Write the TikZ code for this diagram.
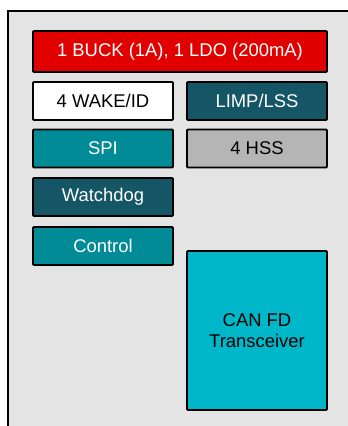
\documentclass[tikz,border=0pt]{standalone}
\usepackage{fontspec}
\setmainfont{Liberation Sans}
\definecolor{bggray}{HTML}{E4E4E4}
\definecolor{tired}{HTML}{E00000}
\definecolor{darkteal}{HTML}{145566}
\definecolor{midteal}{HTML}{008B96}
\definecolor{lightteal}{HTML}{00B7C9}
\definecolor{hssgray}{HTML}{B5B5B5}
\begin{document}
\begin{tikzpicture}[x=1bp, y=-1bp,
    blk/.style={draw=black, line width=1.8bp, rounded corners=1bp,
        minimum width=140bp, minimum height=38bp, inner sep=0pt,
        font=\fontsize{18.5}{21}\selectfont, align=center},
    dark/.style={blk, fill=darkteal, text=white},
    mid/.style={blk, fill=midteal, text=white}]
    \useasboundingbox (0,0) rectangle (348,426);
    \clip (0,0) rectangle (348,426);
    \fill[white] (0,0) rectangle (348,426);
    % device outline
    \draw[line width=2bp, fill=bggray] (8,11) rectangle (380,460);
    % blocks
    \node[blk, fill=tired, text=white, minimum width=294bp, minimum height=41bp] (pwr) at (180,51.5) {1 BUCK (1A), 1 LDO (200mA)};
    \node[blk, fill=white] (wake) at (103,101) {4 WAKE/ID};
    \node[dark] (limp) at (257,101) {LIMP/LSS};
    \node[mid] (spi) at (103,148.5) {SPI};
    \node[blk, fill=hssgray] (hss) at (257,148.5) {4 HSS};
    \node[dark] (wdog) at (103,197) {Watchdog};
    \node[mid] (ctrl) at (103,246) {Control};
    \node[blk, fill=lightteal, minimum height=159bp] (can) at (257,330.5) {CAN FD\\Transceiver};
\end{tikzpicture}
\end{document}
